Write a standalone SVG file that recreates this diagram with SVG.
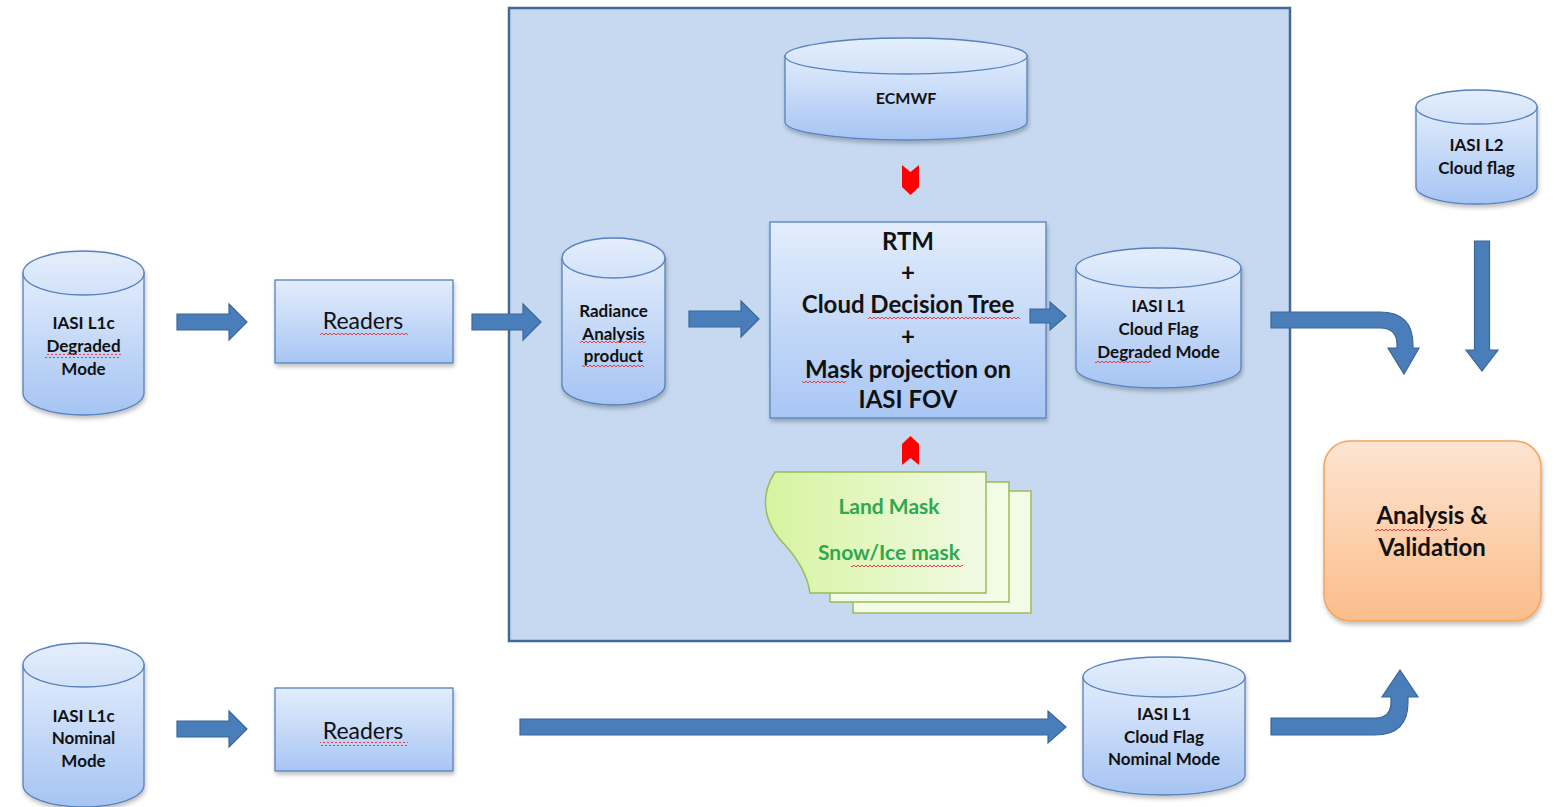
<svg xmlns="http://www.w3.org/2000/svg" width="1558" height="807" viewBox="0 0 1558 807">
<defs>
<linearGradient id="gBlue" x1="0" y1="0" x2="0" y2="1"><stop offset="0" stop-color="#e1ecfc"/><stop offset="1" stop-color="#a6c4f3"/></linearGradient>
<linearGradient id="gBox" x1="0" y1="0" x2="0" y2="1"><stop offset="0" stop-color="#e3edfc"/><stop offset="1" stop-color="#a8c6f4"/></linearGradient>
<linearGradient id="gTop" x1="0" y1="0" x2="0" y2="1"><stop offset="0" stop-color="#e4eefc"/><stop offset="1" stop-color="#d2e2fa"/></linearGradient>
<linearGradient id="gOrange" x1="0" y1="0" x2="0" y2="1"><stop offset="0" stop-color="#fde5d2"/><stop offset="1" stop-color="#fbbd8a"/></linearGradient>
<linearGradient id="gGreen" x1="0" y1="0" x2="1" y2="0"><stop offset="0" stop-color="#d6f4a0"/><stop offset="1" stop-color="#f1fae4"/></linearGradient>
<filter id="sh" x="-10%" y="-10%" width="130%" height="130%"><feDropShadow dx="1" dy="3" stdDeviation="2" flood-color="#000" flood-opacity="0.25"/></filter>
<pattern id="squig" width="4" height="4" patternUnits="userSpaceOnUse"><path d="M0,3 L2,1 L4,3" fill="none" stroke="#e03030" stroke-width="0.9"/></pattern>
</defs>
<style>
.cyl{fill:url(#gBlue);stroke:#5581bd;stroke-width:1.3}
.cyltop{fill:url(#gTop);stroke:#5581bd;stroke-width:1.3}
.box{fill:url(#gBox);stroke:#5581bd;stroke-width:1.3}
.arr{fill:#4a7ebb;stroke:#3b6698;stroke-width:1.2}
.red{fill:#ff0000}
.t{font-family:Lato,"Liberation Sans",sans-serif;fill:#111;text-anchor:middle}
.c{font-size:17px;font-weight:bold}
.r{font-size:23px}
.b{font-size:24px;font-weight:bold}
.g{font-family:Lato,"Liberation Sans",sans-serif;fill:#2fa84f;font-size:21px;font-weight:bold;text-anchor:middle}
.sq{fill:url(#squig)}
</style>
<rect x="0" y="0" width="1558" height="807" fill="#ffffff"/>
<g id="mainbox"><rect x="509" y="8" width="781" height="633" fill="#c6d9f0" stroke="#41699a" stroke-width="2.5"/></g>

<g id="iasi-l1c-degraded">
<g filter="url(#sh)">
<path class="cyl" d="M23,273 L23,393 A60.5,22 0 0 0 144,393 L144,273 Z"/>
<ellipse class="cyltop" cx="83.5" cy="273" rx="60.5" ry="22"/>
</g>
<text x="83.5" y="329" class="t c">IASI L1c</text><text x="83.5" y="352" class="t c">Degraded</text><text x="83.5" y="375" class="t c">Mode</text>
<rect class="sq" x="45" y="354" width="76" height="4"/>
</g>

<g id="readers1">
<rect class="box" x="275" y="280" width="178" height="83" filter="url(#sh)"/>
<text x="363" y="329" class="t r">Readers</text>
<rect class="sq" x="320" y="333" width="88" height="4"/>
</g>

<g id="radiance">
<g filter="url(#sh)">
<path class="cyl" d="M562,258 L562,385 A51.5,20 0 0 0 665,385 L665,258 Z"/>
<ellipse class="cyltop" cx="613.5" cy="258" rx="51.5" ry="20"/>
</g>
<text x="613.5" y="317" class="t c">Radiance</text>
<text x="613.5" y="340" class="t c">Analysis</text>
<text x="613.5" y="362" class="t c">product</text>
<rect class="sq" x="580" y="341" width="66" height="4"/>
<rect class="sq" x="582" y="364" width="62" height="4"/>
</g>

<g id="ecmwf">
<g filter="url(#sh)">
<path class="cyl" d="M785,56 L785,122 A121,18 0 0 0 1027,122 L1027,56 Z"/>
<ellipse class="cyltop" cx="906" cy="56" rx="121" ry="18"/>
</g>
<text x="906" y="104" class="t" style="font-size:16px;font-weight:bold">ECMWF</text>
</g>

<g id="process">
<rect class="box" x="770" y="222" width="276" height="196" filter="url(#sh)"/>
<text x="908" y="250" class="t b">RTM</text>
<text x="908" y="281" class="t b">+</text>
<text x="908" y="313" class="t b">Cloud Decision Tree</text>
<text x="908" y="345" class="t b">+</text>
<text x="908" y="378" class="t b">Mask projection on</text>
<text x="908" y="408" class="t b">IASI FOV</text>
<rect class="sq" x="868" y="315" width="152" height="4"/>
<rect class="sq" x="802" y="380" width="44" height="4"/>
</g>

<g id="l1-degraded">
<g filter="url(#sh)">
<path class="cyl" d="M1076,268 L1076,368 A82.5,20 0 0 0 1241,368 L1241,268 Z"/>
<ellipse class="cyltop" cx="1158.5" cy="268" rx="82.5" ry="20"/>
</g>
<text x="1158.5" y="312" class="t c">IASI L1</text>
<text x="1158.5" y="335" class="t c">Cloud Flag</text>
<text x="1158.5" y="358" class="t c">Degraded Mode</text>
<rect class="sq" x="1095" y="361" width="56" height="4"/>
</g>

<g id="masks">
<rect x="853" y="491" width="178" height="122" fill="#f2fbe6" stroke="#9bbb59" stroke-width="1.5"/>
<rect x="830" y="482" width="179" height="120" fill="#f2fbe6" stroke="#9bbb59" stroke-width="1.5"/>
<path d="M775,472 C760,495 762,522 786,546 C800,562 808,578 810,593 L986,593 L986,472 Z" fill="url(#gGreen)" stroke="#9bbb59" stroke-width="1.5"/>
<text x="889" y="514" class="g">Land Mask</text>
<text x="889" y="560" class="g">Snow/Ice mask</text>
<rect class="sq" x="851" y="563" width="112" height="4"/>
</g>

<g id="l2">
<g filter="url(#sh)">
<path class="cyl" d="M1416,107 L1416,187 A60.5,17 0 0 0 1537,187 L1537,107 Z"/>
<ellipse class="cyltop" cx="1476.5" cy="107" rx="60.5" ry="17"/>
</g>
<text x="1476.5" y="151" class="t c">IASI L2</text>
<text x="1476.5" y="174" class="t c">Cloud flag</text>
</g>

<g id="analysis">
<rect x="1324" y="441" width="217" height="180" rx="26" fill="url(#gOrange)" stroke="#f5a45c" stroke-width="1.5" filter="url(#sh)"/>
<text x="1432" y="524" class="t" style="font-size:24px;font-weight:bold">Analysis &amp;</text>
<text x="1432" y="556" class="t" style="font-size:24px;font-weight:bold">Validation</text>
<rect class="sq" x="1375" y="527" width="72" height="4"/>
</g>

<g id="iasi-l1c-nominal">
<g filter="url(#sh)">
<path class="cyl" d="M23,665 L23,785 A60.5,22 0 0 0 144,785 L144,665 Z"/>
<ellipse class="cyltop" cx="83.5" cy="665" rx="60.5" ry="22"/>
</g>
<text x="83.5" y="722" class="t c">IASI L1c</text>
<text x="83.5" y="744" class="t c">Nominal</text>
<text x="83.5" y="767" class="t c">Mode</text>
</g>

<g id="readers2">
<rect class="box" x="275" y="688" width="178" height="83" filter="url(#sh)"/>
<text x="363" y="739" class="t r">Readers</text>
<rect class="sq" x="320" y="742" width="88" height="4"/>
</g>

<g id="l1-nominal">
<g filter="url(#sh)">
<path class="cyl" d="M1083,677 L1083,775 A81,20 0 0 0 1245,775 L1245,677 Z"/>
<ellipse class="cyltop" cx="1164" cy="677" rx="81" ry="20"/>
</g>
<text x="1164" y="720" class="t c">IASI L1</text>
<text x="1164" y="743" class="t c">Cloud Flag</text>
<text x="1164" y="765" class="t c">Nominal Mode</text>
</g>

<g id="connectors">
<path class="arr" d="M177,314 L229,314 L229,304 L247,322 L229,340 L229,330 L177,330 Z"/>
<path class="arr" d="M472,314 L523,314 L523,304 L541,322 L523,340 L523,330 L472,330 Z"/>
<path class="arr" d="M689,311 L741,311 L741,301 L759,319 L741,337 L741,327 L689,327 Z"/>
<path class="arr" d="M1030,309 L1050,309 L1050,302 L1066,316 L1050,330 L1050,323 L1030,323 Z"/>
<path class="arr" d="M520,719 L1048,719 L1048,711 L1066,727 L1048,743 L1048,735 L520,735 Z"/>
<path class="arr" d="M177,721 L229,721 L229,711 L247,729 L229,747 L229,737 L177,737 Z"/>
<path class="arr" d="M1474.5,241 L1489.5,241 L1489.5,350 L1498,350 L1482,371 L1466,350 L1474.5,350 Z"/>
<path class="arr" d="M1271,312 L1380,312 Q1413,312 1413,345 L1413,348 L1419,348 L1404,374 L1388,348 L1397,348 L1397,345 Q1397,328 1380,328 L1271,328 Z"/>
<path class="arr" d="M1271,735 L1375,735 Q1408,735 1408,702 L1408,697 L1418,697 L1400,670 L1382,697 L1391,697 L1391,702 Q1391,718 1375,718 L1271,718 Z"/>
<path class="red" d="M902,165 L910.5,172 L919,165 L919,187 L910.5,195 L902,187 Z"/>
<path class="red" d="M902,465 L910.5,458 L919,465 L919,444 L910.5,436 L902,444 Z"/>
</g>
</svg>
